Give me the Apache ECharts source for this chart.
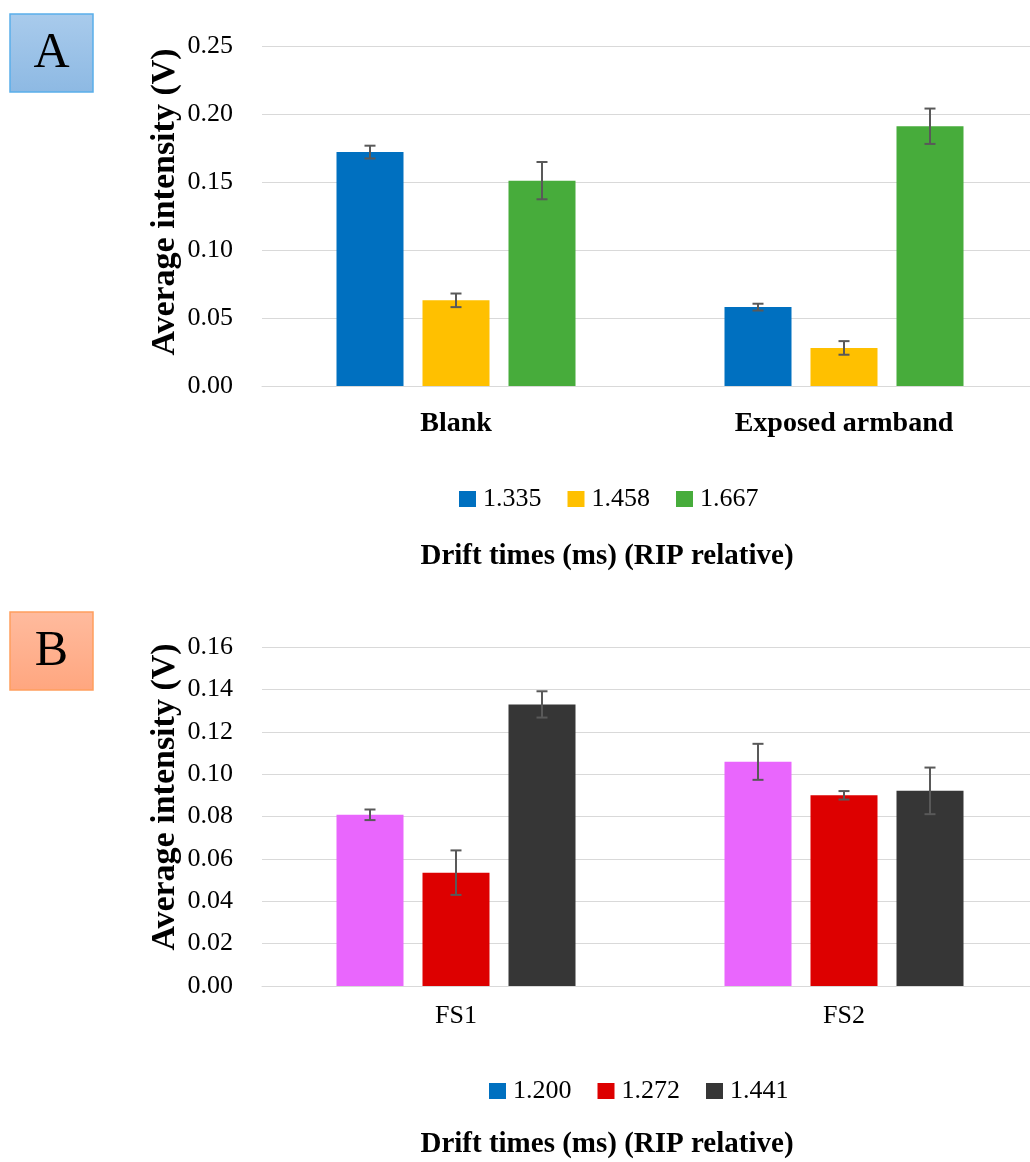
<!DOCTYPE html>
<html>
<head>
<meta charset="utf-8">
<script src="https://cdn.jsdelivr.net/npm/echarts@6/dist/echarts.min.js"></script>
<style>
html,body{margin:0;padding:0;background:#fff;overflow:hidden;}
#chart{width:1040px;height:1162px;}
</style>
</head>
<body>
<div id="chart"></div>
<script>
// ---- Data ----
const categoriesA = ['Blank', 'Exposed armband'];
const seriesNamesA = ['1.335', '1.458', '1.667'];
const values_1335 = [0.172, 0.058];
const values_1458 = [0.063, 0.028];
const values_1667 = [0.151, 0.191];
const errors_1335 = [0.0047, 0.0025];
const errors_1458 = [0.005, 0.005];
const errors_1667 = [0.0137, 0.013];
const yTicksA = [0.00, 0.05, 0.10, 0.15, 0.20, 0.25];

const categoriesB = ['FS1', 'FS2'];
const seriesNamesB = ['1.200', '1.272', '1.441'];
const values_1200 = [0.0808, 0.1058];
const values_1272 = [0.0535, 0.0900];
const values_1441 = [0.1329, 0.0921];
const errors_1200 = [0.0025, 0.0085];
const errors_1272 = [0.0105, 0.0020];
const errors_1441 = [0.0062, 0.0110];
const yTicksB = [0.00, 0.02, 0.04, 0.06, 0.08, 0.10, 0.12, 0.14, 0.16];

// ---- Style ----
const SERIF = '"Liberation Serif", "Times New Roman", serif';
const colorsA = ['#0070C0', '#FFC000', '#47AC3B'];
const colorsB = ['#E966FD', '#DD0000', '#363636'];
const legendColorsB = ['#0070C0', '#DD0000', '#363636'];
const GRID_COLOR = '#D9D9D9';
const ERR_COLOR = '#595959';
const BAR_W = 67, BAR_GAP = 19;

const chart = echarts.init(document.getElementById('chart'), null, {renderer: 'canvas'});

function errRenderer(pos) {
  return function (params, api) {
    const cat = api.value(0), v = api.value(1), e = api.value(2);
    const c = api.coord([cat, v]);
    const t = api.coord([cat, v + e]);
    const b = api.coord([cat, v - e]);
    const x = c[0] + (pos - 1) * (BAR_W + BAR_GAP);
    const st = {stroke: ERR_COLOR, lineWidth: 2};
    return {
      type: 'group',
      children: [
        {type: 'line', shape: {x1: x, y1: t[1], x2: x, y2: b[1]}, style: st},
        {type: 'line', shape: {x1: x - 5.5, y1: t[1], x2: x + 5.5, y2: t[1]}, style: st},
        {type: 'line', shape: {x1: x - 5.5, y1: b[1], x2: x + 5.5, y2: b[1]}, style: st}
      ]
    };
  };
}

const valsA = [values_1335, values_1458, values_1667];
const errsA = [errors_1335, errors_1458, errors_1667];
const valsB = [values_1200, values_1272, values_1441];
const errsB = [errors_1200, errors_1272, errors_1441];

const series = [];
seriesNamesA.forEach((n, i) => {
  series.push({name: n, type: 'bar', xAxisIndex: 0, yAxisIndex: 0, data: valsA[i],
    barWidth: BAR_W, barGap: (BAR_GAP / BAR_W * 100) + '%', itemStyle: {color: colorsA[i]}, silent: true});
});
seriesNamesA.forEach((n, i) => {
  series.push({type: 'custom', xAxisIndex: 0, yAxisIndex: 0, z: 5, silent: true,
    renderItem: errRenderer(i), encode: {x: 0, y: 1},
    data: valsA[i].map((v, k) => [k, v, errsA[i][k]])});
});
seriesNamesB.forEach((n, i) => {
  series.push({name: n, type: 'bar', xAxisIndex: 1, yAxisIndex: 1, data: valsB[i],
    barWidth: BAR_W, barGap: (BAR_GAP / BAR_W * 100) + '%', itemStyle: {color: colorsB[i]}, silent: true});
});
seriesNamesB.forEach((n, i) => {
  series.push({type: 'custom', xAxisIndex: 1, yAxisIndex: 1, z: 5, silent: true,
    renderItem: errRenderer(i), encode: {x: 0, y: 1},
    data: valsB[i].map((v, k) => [k, v, errsB[i][k]])});
});

function yAxis(idx, ticks) {
  return {
    type: 'value', gridIndex: idx,
    min: ticks[0], max: ticks[ticks.length - 1], interval: ticks[1] - ticks[0],
    axisLine: {show: false}, axisTick: {show: false},
    splitLine: {lineStyle: {color: GRID_COLOR, width: 1}},
    axisLabel: {margin: 29, color: '#000', fontFamily: SERIF, fontSize: 26,
      formatter: v => v.toFixed(2)}
  };
}
function xAxis(idx, cats, bold, margin) {
  return {
    type: 'category', gridIndex: idx, data: cats,
    axisLine: {lineStyle: {color: GRID_COLOR, width: 1}},
    axisTick: {show: false},
    axisLabel: {margin: margin, color: '#000', fontFamily: SERIF,
      fontSize: bold ? 28 : 26, fontWeight: bold ? 'bold' : 'normal'}
  };
}

function letterBox(letter, y, c1, c2, border) {
  return [
    {type: 'rect', shape: {x: 10, y: y, width: 83, height: 78},
      style: {fill: new echarts.graphic.LinearGradient(0, 0, 0, 1, [{offset: 0, color: c1}, {offset: 1, color: c2}]),
        stroke: border, lineWidth: 1.5}},
    {type: 'text', x: 51.5, y: y + 40, z: 10,
      style: {text: letter, fontFamily: SERIF, fontSize: 50, fill: '#000',
        align: 'center', verticalAlign: 'middle', textAlign: 'center', textVerticalAlign: 'middle'}}
  ];
}
function txt(text, x, y, size, rot) {
  return {type: 'text', x: x, y: y, rotation: rot || 0,
    style: {text: text, fontFamily: SERIF, fontSize: size, fontWeight: 'bold', fill: '#000',
      align: 'center', verticalAlign: 'middle', textAlign: 'center', textVerticalAlign: 'middle'}};
}

const legendBase = {
  orient: 'horizontal', itemWidth: 17, itemHeight: 16, itemGap: 26, icon: 'rect',
  textStyle: {fontFamily: SERIF, fontSize: 26, color: '#000', padding: [0, 0, 0, 2]}
};

chart.setOption({
  animation: false,
  backgroundColor: '#fff',
  grid: [
    {left: 262, right: 2, top: 46, height: 340},
    {left: 262, right: 2, top: 647, height: 339}
  ],
  xAxis: [xAxis(0, categoriesA, true, 24), xAxis(1, categoriesB, false, 17)],
  yAxis: [yAxis(0, yTicksA), yAxis(1, yTicksB)],
  legend: [
    Object.assign({}, legendBase, {left: 454, top: 481,
      data: seriesNamesA.map((n, i) => ({name: n, itemStyle: {color: colorsA[i]}}))}),
    Object.assign({}, legendBase, {left: 484, top: 1073,
      data: seriesNamesB.map((n, i) => ({name: n, itemStyle: {color: legendColorsB[i]}}))})
  ],
  graphic: [].concat(
    letterBox('A', 14, '#A9CBEC', '#8DB9E3', '#5AAFEA'),
    letterBox('B', 612, '#FFBB9E', '#FFA67F', '#FF9E5E'),
    [
      txt('Average intensity (V)', 165, 202, 34, Math.PI / 2),
      txt('Average intensity (V)', 165, 797, 34, Math.PI / 2),
      txt('Drift times (ms) (RIP relative)', 607, 557, 29),
      txt('Drift times (ms) (RIP relative)', 607, 1145, 29)
    ]
  ),
  series: series
});
</script>
</body>
</html>
